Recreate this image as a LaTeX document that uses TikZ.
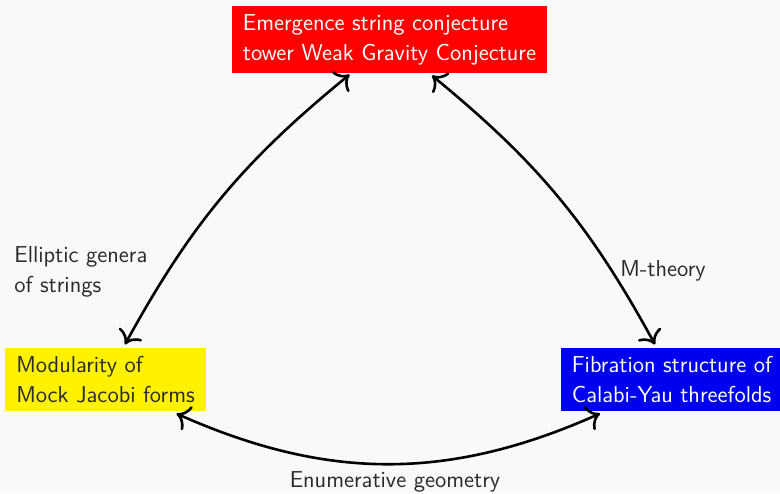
\documentclass[tikz,border=0pt]{standalone}
\usetikzlibrary{calc, arrows.meta, positioning}
\definecolor{pagebg}{HTML}{F9F9F9}
\definecolor{boxred}{HTML}{FF0000}
\definecolor{boxyellow}{HTML}{FFF200}
\definecolor{boxblue}{HTML}{0000F0}
\definecolor{inktext}{HTML}{2A2A2A}

\begin{document}
\begin{tikzpicture}[x=0.5pt, y=-0.5pt,
    font=\sffamily\fontsize{11.5}{15}\selectfont,
    topic/.style={align=left, inner xsep=5.5pt, inner ysep=4.2pt},
    lbl/.style={align=left, inner sep=0pt, text=inktext},
    link/.style={{To[scale=1.4]}-{To[scale=1.4]}, line width=1.3pt}]
\fill[pagebg] (0,0) rectangle (780,493);
\useasboundingbox (0,0) rectangle (780,493);

% the three topics
\node[topic, fill=boxred, text=white] (wgc) at (389.5,39.5) {Emergence string conjecture\\tower Weak Gravity Conjecture};
\node[topic, fill=boxyellow, text=inktext] (mock) at (105.5,379.5) {Modularity of\\Mock Jacobi forms};
\node[topic, fill=boxblue, text=white] (cy) at (672,379.5) {Fibration structure of\\Calabi-Yau threefolds};

% links between them
\draw[link] ($(wgc.south)+(-40,1)$) to[bend right=11] ($(mock.north)+(19.5,-3)$);
\draw[link] ($(wgc.south)+(42.5,2)$) to[bend left=11] ($(cy.north)+(-17,-3)$);
\draw[link] ($(mock.south)+(71,2)$) to[bend right=24] ($(cy.south)+(-72,2)$);

% link labels
\node[lbl, anchor=west] (ell) at (14,272) {Elliptic genera\\of strings};
\node[lbl, anchor=west] (mth) at (620,271) {M-theory};
\node[lbl, anchor=base] (enum) at (395,487) {Enumerative geometry};
\end{tikzpicture}
\end{document}
